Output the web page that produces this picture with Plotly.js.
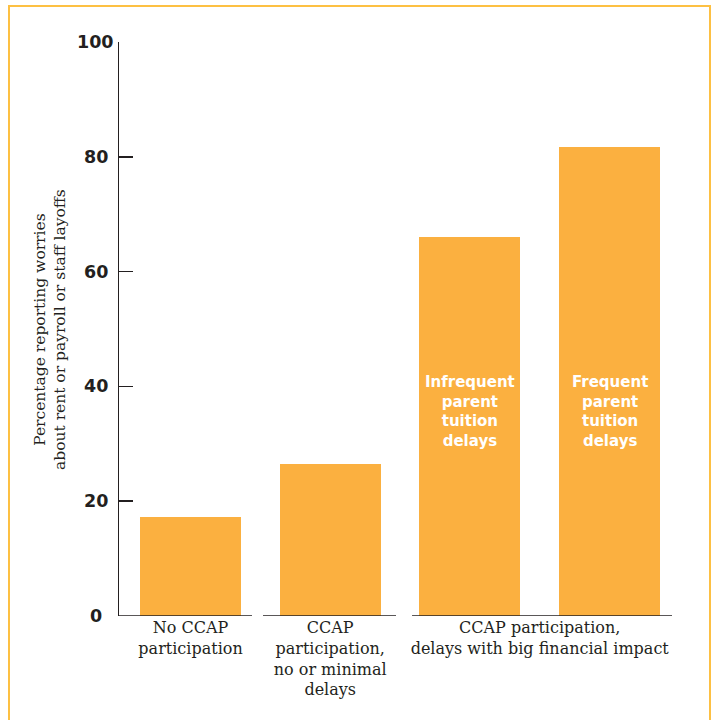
<!DOCTYPE html>
<html>
<head>
<meta charset="utf-8">
<script src="https://cdn.plot.ly/plotly-3.0.1.min.js"></script>
<style>
  html, body { margin: 0; padding: 0; background: #ffffff; }
  #wrap { position: relative; width: 714px; height: 720px; overflow: hidden; }
  #chart { position: absolute; left: 0; top: 0; width: 714px; height: 720px; }
  #frame { position: absolute; left: 8px; top: 5px; width: 703px; height: 800px;
           border: 2px solid #FDC043; box-sizing: border-box; pointer-events: none; }
</style>
</head>
<body>
<div id="wrap">
  <div id="chart"></div>
  <div id="frame"></div>
</div>
<script>
// ---- data ----
const categories = ['No CCAP', 'CCAP no/minimal delays', 'Infrequent parent tuition delays', 'Frequent parent tuition delays'];
const values = [17.3, 26.5, 66.0, 81.7];
const barNotes = ['', '', 'Infrequent<br>parent<br>tuition<br>delays', 'Frequent<br>parent<br>tuition<br>delays'];
const groupLabels = ['No CCAP<br>participation', 'CCAP<br>participation,<br>no or minimal<br>delays', 'CCAP participation,<br>delays with big financial impact'];
const yTickVals = [0, 20, 40, 60, 80, 100];
const yTickText = ['0', '20', '40', '60', '80', '100'];
const yTitleText = 'Percentage reporting worries<br>about rent or payroll or staff layoffs';

// ---- layout helpers ----
const xIdx = categories.map((c, i) => i);
const groupPos = [0, 1, 2.5];
const segments = [[-0.512, 0.44], [0.519, 1.471], [1.586, 3.447]];
const barColor = '#FBB040';
const ink = '#231F20';

const trace = {
  type: 'bar',
  x: xIdx,
  y: values,
  width: 0.723,
  marker: { color: barColor, line: { width: 0 } },
  hoverinfo: 'skip',
  showlegend: false
};

const annotations = [];
barNotes.forEach((t, i) => {
  if (t) annotations.push({
    x: xIdx[i], y: 35.7, xref: 'x', yref: 'y', text: t, showarrow: false,
    xanchor: 'center', yanchor: 'middle', align: 'center',
    font: { family: 'DejaVu Sans', size: 15, color: '#ffffff', weight: 'bold' }
  });
});
yTickVals.forEach((v, i) => {
  annotations.push({
    x: -0.0416, y: v, xref: 'paper', yref: 'y', text: '<b>' + yTickText[i] + '</b>', showarrow: false,
    xanchor: 'center', yanchor: 'middle',
    font: { family: 'DejaVu Sans', size: 17.5, color: ink }
  });
});
annotations.push({
  x: -0.1248, y: 0.5, xref: 'paper', yref: 'paper', text: yTitleText, showarrow: false,
  textangle: -90, xanchor: 'center', yanchor: 'middle', align: 'center',
  font: { family: 'DejaVu Serif', size: 15.5, color: ink }
});

const shapes = segments.map(s => ({
  type: 'line', xref: 'x', yref: 'y', x0: s[0], x1: s[1], y0: 0, y1: 0,
  line: { color: ink, width: 1.5 }
}));

const layout = {
  width: 714, height: 720,
  margin: { l: 119, r: 42, t: 42, b: 104 },
  paper_bgcolor: '#ffffff', plot_bgcolor: '#ffffff',
  xaxis: {
    range: [-0.512, 3.447], showgrid: false, zeroline: false, showline: false,
    tickmode: 'array', tickvals: groupPos, ticktext: groupLabels, ticks: '',
    tickfont: { family: 'DejaVu Serif', size: 16, color: ink },
    fixedrange: true
  },
  yaxis: {
    range: [0, 100], showgrid: false, zeroline: false, showline: true,
    linecolor: ink, linewidth: 1.5,
    tickmode: 'array', tickvals: yTickVals, ticks: 'inside', ticklen: 14,
    tickwidth: 1.5, tickcolor: ink, showticklabels: false,
    fixedrange: true
  },
  annotations: annotations,
  shapes: shapes,
  bargap: 0
};

Plotly.newPlot('chart', [trace], layout, { displayModeBar: false, staticPlot: true });
</script>
</body>
</html>
